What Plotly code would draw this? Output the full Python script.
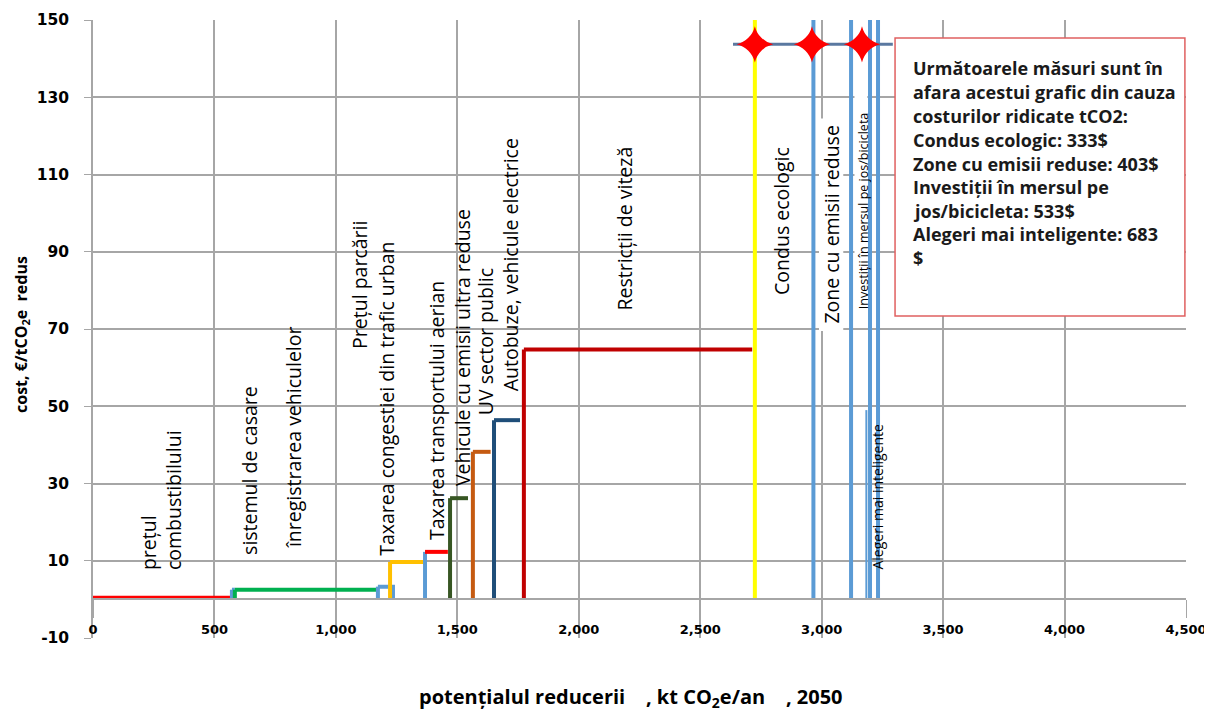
import plotly.graph_objects as go

# ---- data ----
step_names = ["prețul combustibilului", "sistemul de casare", "înregistrarea vehiculelor",
              "Taxarea congestiei din trafic urban", "Prețul parcării", "Taxarea transportului aerian",
              "Vehicule cu emisii ultra reduse", "UV sector public", "Autobuze, vehicule electrice",
              "Restricții de viteză"]
step_x0 = [0, 572, 584, 1173, 1223, 1367, 1470, 1564, 1651, 1774]
step_x1 = [572, 584, 1169, 1235, 1359, 1461, 1544, 1637, 1758, 2714]
step_cost = [0.4, 2.5, 2.5, 3.3, 9.7, 12.3, 26.2, 38.2, 46.4, 64.7]
step_color = ["#ff0000", "#5b9bd5", "#00b050", "#5b9bd5", "#ffc000", "#ff0000",
              "#375623", "#c55a11", "#1f4e79", "#c00000"]
step_vcolor = ["#ff0000", "#5b9bd5", "#00b050", "#5b9bd5", "#ffc000", "#5b9bd5",
               "#375623", "#c55a11", "#1f4e79", "#c00000"]
step_close = [False, False, False, True, False, False, False, False, False, False]

high_names = ["Condus ecologic", "Zone cu emisii reduse", "Investiții în mersul pe jos/bicicleta",
              "Alegeri mai inteligente (a)", "Alegeri mai inteligente"]
high_x = [2725, 2966, 3121, 3199, 3232]
high_top = [150, 150, 150, 150, 150]
high_color = ["#ffff00", "#5b9bd5", "#5b9bd5", "#5b9bd5", "#5b9bd5"]
thin_x = [3184]
thin_top = [49]

star_x = [2725, 2960, 3166]
star_y = [143.7, 143.7, 143.7]
star_line_x = [2635, 3293]

box_lines = ["Următoarele măsuri sunt în", "afara acestui grafic din cauza",
             "costurilor ridicate tCO2:", "Condus ecologic: 333$",
             "Zone cu emisii reduse: 403$", "Investiții în mersul pe",
             "jos/bicicleta: 533$", "Alegeri mai inteligente: 683", "$"]

y_tickvals = [-10, 10, 30, 50, 70, 90, 110, 130, 150]
y_ticktext = ["-10", "10", "30", "50", "70", "90", "110", "130", "150"]
x_tickvals = [0, 500, 1000, 1500, 2000, 2500, 3000, 3500, 4000, 4500]
x_ticktext = ["0", "500", "1,000", "1,500", "2,000", "2,500", "3,000", "3,500", "4,000", "4,500"]

# label positions (data coords of label centers)
lab_text = ["prețul<br>combustibilului", "sistemul de casare", "înregistrarea vehiculelor",
            "Prețul parcării", "Taxarea congestiei din trafic urban", "Taxarea transportului aerian",
            "Vehicule cu emisii ultra reduse", "UV sector public", "Autobuze, vehicule electrice",
            "Restricții de viteză", "Condus ecologic", "Zone cu emisii reduse"]
lab_x = [280, 646, 823, 1099, 1210, 1412, 1519, 1614, 1717, 2190, 2837, 3042]
lab_y = [25.7, 33.5, 42, 81.4, 51.9, 49, 65.3, 66.6, 86.5, 96, 98, 97]
small_text = ["Investiții în mersul pe jos/bicicleta", "Alegeri mai inteligente"]
small_x = [3170, 3226]
small_y = [100.5, 26.5]
small_size = [12.5, 14]

# white patches behind two labels (x0, x1, y0, y1)
patch_x0 = [2989, 3135]
patch_x1 = [3089, 3188]
patch_y0 = [69.5, 70.5]
patch_y1 = [124.5, 131]

FONT = "'Open Sans', Lato, sans-serif"

fig = go.Figure()

for i in range(len(step_names)):
    fig.add_trace(go.Scatter(x=[step_x0[i], step_x0[i]], y=[0, step_cost[i]], mode="lines",
                             line=dict(color=step_vcolor[i], width=4), showlegend=False,
                             hoverinfo="skip"))
    xs = [step_x0[i], step_x1[i]]
    ys = [step_cost[i], step_cost[i]]
    if step_close[i]:
        xs.append(step_x1[i]); ys.append(0)
    fig.add_trace(go.Scatter(x=xs, y=ys, mode="lines", name=step_names[i],
                             line=dict(color=step_color[i], width=4), showlegend=False))

for i in range(len(high_x)):
    fig.add_trace(go.Scatter(x=[high_x[i], high_x[i]], y=[0, high_top[i]], mode="lines",
                             line=dict(color=high_color[i], width=4), showlegend=False,
                             name=high_names[i]))
for i in range(len(thin_x)):
    fig.add_trace(go.Scatter(x=[thin_x[i], thin_x[i]], y=[0, thin_top[i]], mode="lines",
                             line=dict(color="#5b9bd5", width=2), showlegend=False))

fig.add_trace(go.Scatter(x=star_line_x, y=[star_y[0], star_y[0]], mode="lines",
                         line=dict(color="#5a78a0", width=3), showlegend=False))
fig.add_trace(go.Scatter(x=star_x, y=star_y, mode="markers",
                         marker=dict(symbol="star-diamond", size=26, color="#ff0000",
                                     line=dict(width=0)), showlegend=False))

for x0, x1, y0, y1 in zip(patch_x0, patch_x1, patch_y0, patch_y1):
    fig.add_shape(type="rect", xref="x", yref="y", x0=x0, x1=x1, y0=y0, y1=y1,
                  fillcolor="white", line=dict(width=0), layer="between")

for t, x, y in zip(lab_text, lab_x, lab_y):
    fig.add_annotation(x=x, y=y, xref="x", yref="y", text=t, textangle=-90, showarrow=False,
                       align="left", font=dict(family=FONT, size=19.5, color="black"))
for t, x, y, s in zip(small_text, small_x, small_y, small_size):
    fig.add_annotation(x=x, y=y, xref="x", yref="y", text=t, textangle=-90, showarrow=False,
                       font=dict(family=FONT, size=s, color="black"))

# text box
fig.add_shape(type="rect", xref="paper", yref="paper", x0=0.7338, x1=0.999, y0=0.521, y1=0.971,
              line=dict(color="#e06060", width=1.5), fillcolor="white", layer="above")
line_py = [68, 92, 116, 140, 164, 187, 211, 234, 258]
for t, py in zip(box_lines, line_py):
    fig.add_annotation(x=0.7484, y=(638 - py) / 618, xref="paper", yref="paper", text=t,
                       xanchor="left", yanchor="middle", showarrow=False,
                       font=dict(family=FONT, size=18, color="#1a1a1a", weight="bold"))

# axis titles
fig.add_annotation(x=(21 - 93) / 1093, y=(638 - 335) / 618, xref="paper", yref="paper",
                   xanchor="center", yanchor="middle",
                   text="cost, €/tCO<sub>2</sub>e  redus", textangle=-90, showarrow=False,
                   font=dict(family=FONT, size=16, color="black", weight="bold"))
fig.add_annotation(x=(631 - 93) / 1093, y=(638 - 697) / 618, xref="paper", yref="paper",
                   xanchor="center", yanchor="middle",
                   text="potențialul reducerii    , kt CO<sub>2</sub>e/an    , 2050", showarrow=False,
                   font=dict(family=FONT, size=20, color="black", weight="bold"))

YTICKFONT = dict(family="'DejaVu Sans'", size=15.5, color="black", weight="bold")
XTICKFONT = dict(family="'DejaVu Sans'", size=13, color="black", weight="bold")
# the page body adds an 8px offset, so the figure is 8px smaller and margins shifted
fig.update_layout(
    width=1204, height=705, margin=dict(l=85, r=26, t=12, b=75),
    plot_bgcolor="white", paper_bgcolor="white", showlegend=False,
    xaxis=dict(range=[0, 4500], tickvals=x_tickvals, ticktext=x_ticktext, showgrid=True,
               gridcolor="#a6a6a6", gridwidth=1.5, zeroline=False, showline=True,
               linecolor="#a6a6a6", linewidth=1.5, ticks="outside", ticklen=18,
               tickcolor="#a6a6a6", anchor="free", position=10 / 160, automargin=False,
               ticklabeloverflow="allow", tickfont=XTICKFONT),
    yaxis=dict(range=[-10, 150], tickvals=y_tickvals, ticktext=y_ticktext, showgrid=True,
               gridcolor="#a6a6a6", gridwidth=1.5, zeroline=False, showline=True,
               linecolor="#a6a6a6", linewidth=1.5, automargin=False,
               ticks="outside", ticklen=7, tickcolor="#a6a6a6", ticklabelstandoff=12,
               tickfont=YTICKFONT),
)

fig.write_html("out.html")
